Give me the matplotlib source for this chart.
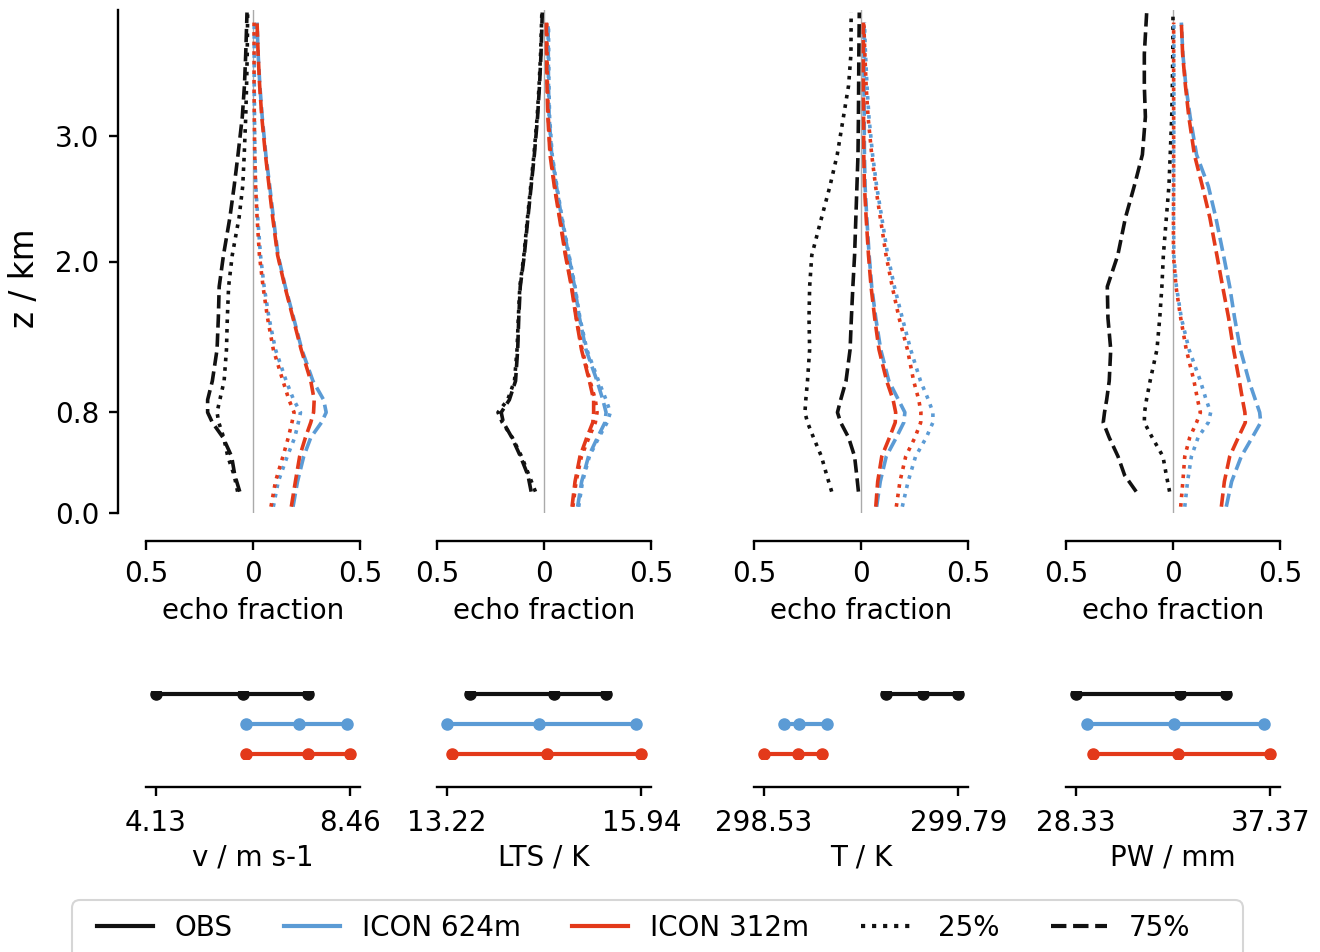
import matplotlib
matplotlib.use("Agg")
import matplotlib.pyplot as plt
from matplotlib.lines import Line2D
from matplotlib.patches import FancyBboxPatch

plt.rcParams["font.family"] = "DejaVu Sans"
plt.rcParams["axes.linewidth"] = 1.7
plt.rcParams["xtick.major.width"] = 1.7
plt.rcParams["ytick.major.width"] = 1.7
plt.rcParams["xtick.major.size"] = 6.5
plt.rcParams["ytick.major.size"] = 6.5

C_OBS = "#111111"
C_624 = "#5b9bd5"
C_312 = "#e3391a"

# height levels of the echo fraction profiles (km)
Z_OBS = [0.17, 0.3, 0.45, 0.6, 0.72, 0.8, 0.9, 1.05, 1.3, 1.55, 1.8, 2.05,
         2.35, 2.6, 2.85, 3.15, 3.4, 3.65, 3.98]
Z_ICON = [0.05, 0.25, 0.45, 0.6, 0.72, 0.8, 0.9, 1.05, 1.3, 1.55, 1.8, 2.05,
          2.35, 2.6, 2.85, 3.15, 3.4, 3.65, 3.9]

# echo fraction difference, wind speed quartiles
V_OBS_P25 = [-0.072, -0.088, -0.118, -0.137, -0.160, -0.168, -0.155, -0.135, -0.124, -0.120,
             -0.114, -0.097, -0.065, -0.048, -0.041, -0.034, -0.030, -0.027, -0.025]
V_OBS_P75 = [-0.062, -0.085, -0.100, -0.140, -0.190, -0.212, -0.212, -0.190, -0.168, -0.162,
             -0.158, -0.138, -0.108, -0.088, -0.070, -0.050, -0.040, -0.034, -0.028]
V_624_P25 = [0.095, 0.118, 0.160, 0.195, 0.212, 0.222, 0.190, 0.155, 0.105, 0.075,
             0.052, 0.035, 0.022, 0.013, 0.009, 0.007, 0.006, 0.006, 0.006]
V_624_P75 = [0.187, 0.208, 0.237, 0.270, 0.320, 0.342, 0.330, 0.280, 0.228, 0.190,
             0.151, 0.117, 0.095, 0.078, 0.060, 0.043, 0.032, 0.024, 0.019]
V_312_P25 = [0.084, 0.105, 0.140, 0.165, 0.182, 0.192, 0.168, 0.140, 0.095, 0.068,
             0.047, 0.030, 0.019, 0.012, 0.008, 0.006, 0.005, 0.005, 0.005]
V_312_P75 = [0.179, 0.198, 0.218, 0.245, 0.270, 0.283, 0.286, 0.270, 0.225, 0.187,
             0.149, 0.115, 0.092, 0.075, 0.058, 0.041, 0.031, 0.024, 0.019]

# lower tropospheric stability quartiles
LTS_OBS_P25 = [-0.040, -0.070, -0.105, -0.148, -0.195, -0.215, -0.170, -0.138, -0.126, -0.120,
               -0.113, -0.094, -0.077, -0.062, -0.047, -0.032, -0.023, -0.016, -0.010]
LTS_OBS_P75 = [-0.060, -0.075, -0.110, -0.150, -0.190, -0.200, -0.162, -0.133, -0.123, -0.118,
               -0.111, -0.092, -0.075, -0.060, -0.045, -0.030, -0.021, -0.014, -0.008]
LTS_624_P25 = [0.162, 0.180, 0.212, 0.256, 0.295, 0.310, 0.290, 0.255, 0.200, 0.168,
               0.145, 0.117, 0.084, 0.060, 0.038, 0.026, 0.023, 0.022, 0.021]
LTS_624_P75 = [0.157, 0.176, 0.208, 0.250, 0.285, 0.290, 0.275, 0.248, 0.196, 0.166,
               0.143, 0.115, 0.082, 0.058, 0.036, 0.024, 0.021, 0.020, 0.019]
LTS_312_P25 = [0.135, 0.150, 0.175, 0.210, 0.240, 0.248, 0.240, 0.215, 0.178, 0.152,
               0.130, 0.102, 0.074, 0.050, 0.030, 0.020, 0.016, 0.014, 0.013]
LTS_312_P75 = [0.131, 0.145, 0.168, 0.200, 0.228, 0.232, 0.232, 0.212, 0.175, 0.150,
               0.128, 0.100, 0.072, 0.048, 0.028, 0.018, 0.014, 0.012, 0.011]

# surface temperature quartiles
T_OBS_P25 = [-0.137, -0.160, -0.185, -0.222, -0.250, -0.262, -0.258, -0.250, -0.240, -0.243,
             -0.240, -0.230, -0.184, -0.145, -0.111, -0.082, -0.058, -0.047, -0.046]
T_OBS_P75 = [-0.012, -0.020, -0.030, -0.058, -0.095, -0.110, -0.095, -0.070, -0.051, -0.045,
             -0.038, -0.030, -0.024, -0.019, -0.014, -0.012, -0.011, -0.010, -0.008]
T_624_P25 = [0.193, 0.220, 0.255, 0.305, 0.336, 0.336, 0.315, 0.278, 0.232, 0.193,
             0.156, 0.125, 0.097, 0.073, 0.054, 0.037, 0.028, 0.021, 0.016]
T_624_P75 = [0.073, 0.090, 0.118, 0.165, 0.200, 0.205, 0.175, 0.130, 0.092, 0.069,
             0.050, 0.038, 0.027, 0.019, 0.016, 0.015, 0.014, 0.014, 0.014]
T_312_P25 = [0.165, 0.182, 0.209, 0.252, 0.279, 0.280, 0.270, 0.246, 0.217, 0.178,
             0.146, 0.117, 0.090, 0.068, 0.050, 0.033, 0.024, 0.018, 0.013]
T_312_P75 = [0.069, 0.078, 0.097, 0.133, 0.160, 0.162, 0.150, 0.120, 0.084, 0.064,
             0.047, 0.035, 0.024, 0.016, 0.013, 0.012, 0.011, 0.011, 0.011]

# precipitable water quartiles
PW_OBS_P25 = [-0.016, -0.031, -0.047, -0.097, -0.134, -0.133, -0.124, -0.107, -0.075, -0.062,
              -0.052, -0.045, -0.031, -0.019, -0.013, -0.006, -0.003, -0.001, 0.000]
PW_OBS_P75 = [-0.172, -0.226, -0.257, -0.298, -0.326, -0.320, -0.310, -0.298, -0.291, -0.304,
              -0.307, -0.258, -0.222, -0.181, -0.143, -0.129, -0.134, -0.134, -0.123]
PW_624_P25 = [0.055, 0.068, 0.086, 0.117, 0.165, 0.176, 0.155, 0.128, 0.075, 0.039,
              0.016, 0.004, 0.003, 0.003, 0.003, 0.004, 0.004, 0.004, 0.004]
PW_624_P75 = [0.249, 0.274, 0.319, 0.370, 0.410, 0.405, 0.385, 0.355, 0.315, 0.288,
              0.265, 0.236, 0.200, 0.165, 0.110, 0.080, 0.060, 0.046, 0.039]
PW_312_P25 = [0.036, 0.046, 0.055, 0.078, 0.110, 0.128, 0.115, 0.098, 0.062, 0.036,
              0.014, 0.002, 0.002, 0.003, 0.003, 0.003, 0.003, 0.003, 0.003]
PW_312_P75 = [0.226, 0.240, 0.265, 0.305, 0.338, 0.336, 0.325, 0.310, 0.283, 0.260,
              0.232, 0.205, 0.172, 0.137, 0.100, 0.074, 0.058, 0.045, 0.039]

# 25th / 50th / 75th percentile of each environmental variable
V_RANGE_OBS = [4.13, 6.08, 7.53]
V_RANGE_624 = [6.13, 7.31, 8.38]
V_RANGE_312 = [6.14, 7.53, 8.46]
LTS_RANGE_OBS = [13.55, 14.72, 15.44]
LTS_RANGE_624 = [13.22, 14.51, 15.87]
LTS_RANGE_312 = [13.29, 14.62, 15.94]
T_RANGE_OBS = [299.32, 299.56, 299.79]
T_RANGE_624 = [298.66, 298.76, 298.94]
T_RANGE_312 = [298.53, 298.75, 298.91]
PW_RANGE_OBS = [28.33, 33.19, 35.33]
PW_RANGE_624 = [28.86, 32.89, 37.10]
PW_RANGE_312 = [29.12, 33.10, 37.37]

VAR_LABELS = ["v / m s-1", "LTS / K", "T / K", "PW / mm"]
LEGEND_LABELS = ["OBS", "ICON 624m", "ICON 312m", "25%", "75%"]

profiles = [
    (V_OBS_P25, V_OBS_P75, V_624_P25, V_624_P75, V_312_P25, V_312_P75),
    (LTS_OBS_P25, LTS_OBS_P75, LTS_624_P25, LTS_624_P75, LTS_312_P25, LTS_312_P75),
    (T_OBS_P25, T_OBS_P75, T_624_P25, T_624_P75, T_312_P25, T_312_P75),
    (PW_OBS_P25, PW_OBS_P75, PW_624_P25, PW_624_P75, PW_312_P25, PW_312_P75),
]
ranges = [
    (V_RANGE_OBS, V_RANGE_624, V_RANGE_312),
    (LTS_RANGE_OBS, LTS_RANGE_624, LTS_RANGE_312),
    (T_RANGE_OBS, T_RANGE_624, T_RANGE_312),
    (PW_RANGE_OBS, PW_RANGE_624, PW_RANGE_312),
]

FS = 20
W, H = 1320, 952
OFFSET = 20  # points the spines are pushed away from the data
lefts = [146, 437, 754, 1066]
panel_w = 214

fig = plt.figure(figsize=(W / 100, H / 100), dpi=100)

for i in range(4):
    x0 = lefts[i] / W
    ax = fig.add_axes([x0, 1 - 513 / H, panel_w / W, 503 / H])
    obs25, obs75, m624_25, m624_75, m312_25, m312_75 = profiles[i]
    ax.axvline(0, color="#aaaaaa", lw=1.0, zorder=0)
    ax.plot(obs25, Z_OBS, color=C_OBS, ls=":", lw=2.6)
    ax.plot(obs75, Z_OBS, color=C_OBS, ls="--", lw=2.6)
    ax.plot(m624_25, Z_ICON, color=C_624, ls=":", lw=2.6)
    ax.plot(m624_75, Z_ICON, color=C_624, ls="--", lw=2.6)
    ax.plot(m312_25, Z_ICON, color=C_312, ls=":", lw=2.6)
    ax.plot(m312_75, Z_ICON, color=C_312, ls="--", lw=2.6)
    ax.set_xlim(-0.5, 0.5)
    ax.set_ylim(0, 4.0)
    ax.set_xticks([-0.5, 0, 0.5])
    ax.set_xticklabels(["0.5", "0", "0.5"])
    ax.set_xlabel("echo fraction", fontsize=FS, labelpad=7)
    ax.tick_params(labelsize=FS, pad=7)
    for s in ["top", "right"]:
        ax.spines[s].set_visible(False)
    ax.spines["bottom"].set_position(("outward", OFFSET))
    if i == 0:
        ax.spines["left"].set_position(("outward", OFFSET))
        ax.set_yticks([0.0, 0.8, 2.0, 3.0])
        ax.set_yticklabels(["0.0", "0.8", "2.0", "3.0"])
        ax.set_ylabel("z / km", fontsize=23.5)
        ax.yaxis.set_label_coords(-0.49, 0.467)
    else:
        ax.spines["left"].set_visible(False)
        ax.set_yticks([])

    # percentile ranges of the environmental variable
    bx = fig.add_axes([x0, 1 - 759 / H, panel_w / W, 68 / H])
    obs, m624, m312 = ranges[i]
    for vals, row, col in [(obs, 2, C_OBS), (m624, 1, C_624), (m312, 0, C_312)]:
        bx.plot(vals, [row] * len(vals), color=col, lw=3, marker="o", ms=8)
    bx.set_ylim(-0.17, 2.1)
    lo = min(min(obs), min(m624), min(m312))
    hi = max(max(obs), max(m624), max(m312))
    bx.margins(x=0.05)
    bx.set_xticks([lo, hi])
    bx.set_xticklabels([f"{lo:.2f}", f"{hi:.2f}"])
    bx.set_yticks([])
    bx.set_xlabel(VAR_LABELS[i], fontsize=FS, labelpad=5)
    bx.tick_params(labelsize=FS, pad=9.5)
    for s in ["top", "right", "left"]:
        bx.spines[s].set_visible(False)
    bx.spines["bottom"].set_position(("outward", OFFSET))

# legend frame, running off the bottom edge of the figure
frame = FancyBboxPatch((0.72, -0.2), (1243 - 72) / 100, (H - 900) / 100 + 0.2,
                       boxstyle="round,pad=0,rounding_size=0.08",
                       transform=fig.dpi_scale_trans, facecolor="white",
                       edgecolor="#d6d6d6", lw=1.5)
fig.patches.append(frame)

handles = [
    Line2D([], [], color=C_OBS, lw=3),
    Line2D([], [], color=C_624, lw=3),
    Line2D([], [], color=C_312, lw=3),
    Line2D([], [], color=C_OBS, lw=3, ls=":"),
    Line2D([], [], color=C_OBS, lw=3, ls="--"),
]
leg = fig.legend(handles, LEGEND_LABELS, loc="center left", ncol=5,
                 bbox_to_anchor=(97 / W, 1 - 928 / H), fontsize=FS,
                 frameon=False, borderpad=0, borderaxespad=0,
                 columnspacing=1.85)

fig.savefig("out.png", dpi=100)
